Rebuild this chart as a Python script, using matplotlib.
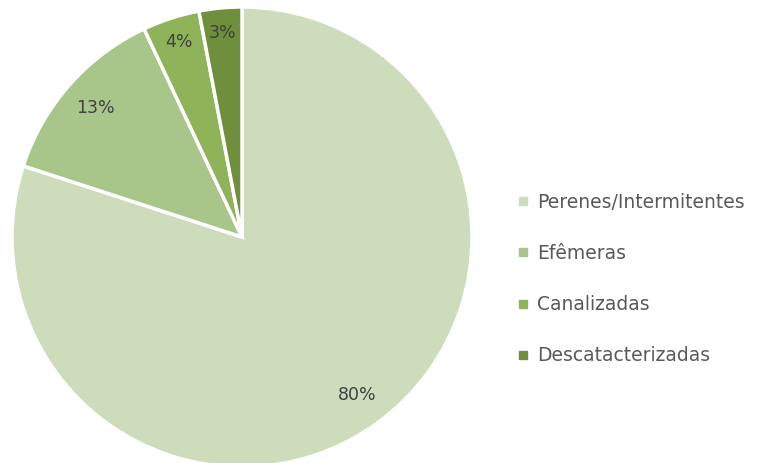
import matplotlib
matplotlib.use("Agg")
import matplotlib.pyplot as plt
from matplotlib.lines import Line2D

# ── Data ──
categories = ["Perenes/Intermitentes", "Efêmeras", "Canalizadas", "Descatacterizadas"]
shares = [80, 13, 4, 3]
colors = ["#cddcba", "#a9c68a", "#8fb359", "#6f8f3c"]
TEXT = "#404040"
LEGEND_TEXT = "#595959"

plt.rcParams.update({"font.family": "DejaVu Sans", "font.size": 12.5})

fig = plt.figure(figsize=(7.63, 4.63), dpi=100)
ax = fig.add_axes([12 / 763, -4 / 463, 460 / 763, 460 / 463])

wedges, _, autotexts = ax.pie(
    shares, colors=colors, startangle=90, counterclock=False,
    autopct="%1.0f%%", pctdistance=0.85, radius=1.0,
    wedgeprops={"edgecolor": "white", "linewidth": 2.5},
    textprops={"color": TEXT, "fontsize": 12.5},
)
ax.set_xlim(-1, 1); ax.set_ylim(-1, 1)
ax.set_aspect("equal")

# small labels sit a bit further out in the thin slices
for t in autotexts[2:]:
    x, y = t.get_position()
    t.set_position((x * 1.05, y * 1.05))

handles = [Line2D([0], [0], marker="s", linestyle="none", markersize=5.5,
                  markerfacecolor=c, markeredgecolor=c) for c in colors]
fig.legend(handles, categories, loc="center left",
           bbox_to_anchor=(500 / 763, 1 - 279 / 463), frameon=False,
           handlelength=0.6, handletextpad=0.5, labelspacing=1.72,
           labelcolor=LEGEND_TEXT, fontsize=13.5)

fig.savefig("out.png", dpi=100, facecolor="white")
